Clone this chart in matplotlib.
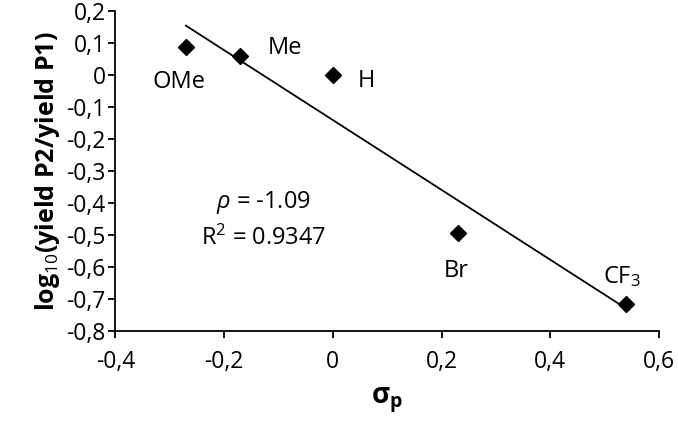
import numpy as np
import matplotlib.pyplot as plt
from matplotlib.ticker import FuncFormatter, MultipleLocator

plt.rcParams['font.family'] = ['Open Sans', 'DejaVu Sans']
plt.rcParams['mathtext.fontset'] = 'custom'
plt.rcParams['mathtext.rm'] = 'Open Sans'
plt.rcParams['mathtext.it'] = 'Open Sans:italic'
plt.rcParams['mathtext.bf'] = 'Open Sans:bold'

# substituents, Hammett sigma_p and log10 yield ratio
labels = ['OMe', 'Me', 'H', 'Br', 'CF$_3$']
sigma_p = [-0.27, -0.17, 0.0, 0.23, 0.54]
log_ratio = [0.088, 0.059, 0.0, -0.494, -0.716]
label_offsets = [(-5, -25), (32, 6), (24, -4), (-1, -27), (-3, 20)]

slope, intercept = np.polyfit(sigma_p, log_ratio, 1)

fig = plt.figure(figsize=(6.78, 4.28), dpi=100)
ax = fig.add_axes([0.170, 0.227, 0.802, 0.747])

xs = np.array([min(sigma_p), max(sigma_p)])
ax.plot(xs, slope * xs + intercept, color='black', lw=1.3)
ax.plot(sigma_p, log_ratio, 'D', color='black', ms=8.5, ls='none')

for lab, x, y, off in zip(labels, sigma_p, log_ratio, label_offsets):
    ax.annotate(lab, (x, y), xytext=off, textcoords='offset points',
                ha='center', va='center', fontsize=17)

ax.text(-0.128, -0.40, r'$\rho$ = -1.09', ha='center', va='center', fontsize=17)
ax.text(-0.128, -0.509, 'R$^2$ = 0.9347', ha='center', va='center', fontsize=17)

ax.set_xlim(-0.4, 0.6)
ax.set_ylim(-0.8, 0.2)
ax.xaxis.set_major_locator(MultipleLocator(0.2))
ax.yaxis.set_major_locator(MultipleLocator(0.1))
fmt = FuncFormatter(lambda v, p: ('%g' % round(v, 2)).replace('.', ','))
ax.xaxis.set_major_formatter(fmt)
ax.yaxis.set_major_formatter(fmt)
ax.tick_params(direction='out', length=5, width=1.3, labelsize=16.5, pad=2)
ax.tick_params(axis='x', pad=9)
for s in ['top', 'right']:
    ax.spines[s].set_visible(False)
for s in ['left', 'bottom']:
    ax.spines[s].set_linewidth(1.3)

ax.set_xlabel(r'$\mathbf{\sigma_p}$', fontsize=20, fontweight='bold', labelpad=8)
ax.set_ylabel(r'log$_{10}$(yield P2/yield P1)', fontsize=18, fontweight='bold', labelpad=3)

fig.savefig('out.png', dpi=100)
